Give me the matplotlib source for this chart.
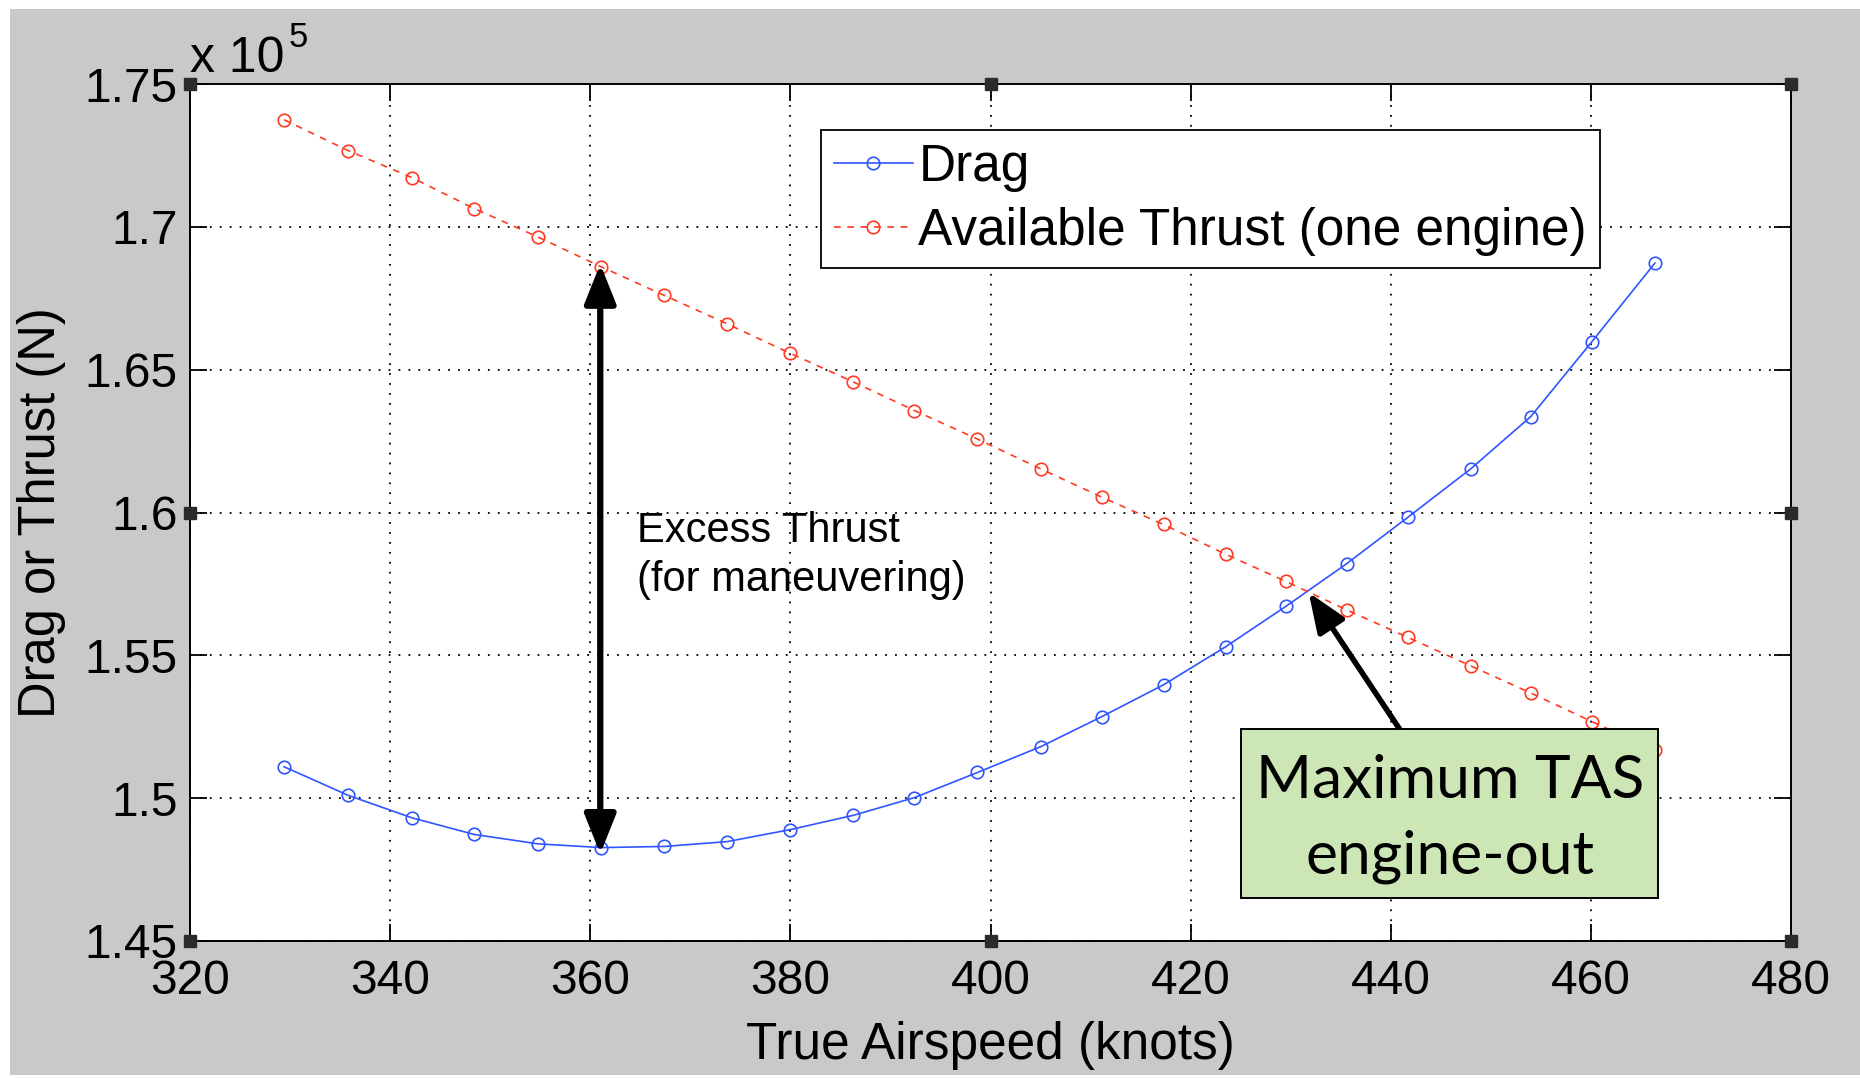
import matplotlib
matplotlib.use("Agg")
import matplotlib.pyplot as plt
from matplotlib.patches import Rectangle

# ---- data ----
tas_knots = [329.4, 335.8, 342.2, 348.4, 354.8, 361.1, 367.4, 373.7, 380.0, 386.3,
             392.4, 398.7, 405.0, 411.1, 417.3, 423.5, 429.5, 435.6, 441.7, 448.0,
             454.0, 460.1, 466.4]
drag_N = [151100, 150100, 149310, 148730, 148400, 148270, 148310, 148480, 148900, 149400,
          150020, 150900, 151800, 152850, 153970, 155300, 156710, 158210, 159830, 161530,
          163360, 165980, 168730]
thrust_N = [173750, 172670, 171720, 170640, 169640, 168600, 167600, 166600, 165570, 164570,
            163570, 162570, 161530, 160540, 159580, 158540, 157590, 156590, 155630, 154630,
            153680, 152680, 151680]

x_ticks = [320, 340, 360, 380, 400, 420, 440, 460, 480]
y_ticks = [145000, 150000, 155000, 160000, 165000, 170000, 175000]
y_tick_labels = ["1.45", "1.5", "1.55", "1.6", "1.65", "1.7", "1.75"]

series_names = ["Drag", "Available Thrust (one engine)"]
excess_text = "Excess Thrust\n(for maneuvering)"
box_lines = ["Maximum TAS", "engine-out"]

BLUE = "#2f55ff"
RED = "#ff3a22"
GREY = "#c9c9c9"

plt.rcParams["font.family"] = ["Liberation Sans", "DejaVu Sans"]

W, H = 1860, 1078
fig = plt.figure(figsize=(W / 100, H / 100), dpi=100)
fig.patch.set_facecolor("white")
fig.patches.append(Rectangle((10 / W, 3 / H), 1 - 10 / W, 1 - 12 / H,
                             transform=fig.transFigure, facecolor=GREY,
                             edgecolor="none", zorder=-10))

L, R, T, B = 190, 1791, 84, 941
ax = fig.add_axes([L / W, 1 - B / H, (R - L) / W, (B - T) / H])
ax.set_facecolor("white")

ax.plot(tas_knots, drag_N, color=BLUE, lw=1.2, marker="o", ms=9,
        mfc="none", mec=BLUE, mew=1.2, label=series_names[0], zorder=3)
ax.plot(tas_knots, thrust_N, color=RED, lw=1.2, ls=(0, (4, 4)), marker="o", ms=9,
        mfc="none", mec=RED, mew=1.2, label=series_names[1], zorder=3)

ax.set_xlim(320, 480)
ax.set_ylim(145000, 175000)
ax.set_xticks(x_ticks)
ax.set_xticklabels([str(v) for v in x_ticks])
ax.set_yticks(y_ticks)
ax.set_yticklabels(y_tick_labels)

ax.grid(True, color="black", ls=(0, (1, 4.5)), lw=1.3)
ax.tick_params(direction="in", length=12, width=1.3, top=True, right=True,
               labelsize=34.5, pad=13)
ax.tick_params(axis="y", pad=9)
for s in ax.spines.values():
    s.set_linewidth(1.4)
    s.set_color("black")

ax.set_xlabel("True Airspeed (knots)", fontsize=37, labelpad=12)
ax.set_ylabel("Drag or Thrust (N)", fontsize=36.5, va="center")
ax.yaxis.set_label_coords(-0.093, 0.5)

# exponent label
fig.text(190 / W, 1 - 72 / H, "x 10", fontsize=36, ha="left", va="baseline")
fig.text(289 / W, 1 - 47 / H, "5", fontsize=25, ha="left", va="baseline")

leg = ax.legend(loc="upper left", bbox_to_anchor=(0.394, 0.946), fontsize=37,
                frameon=True, fancybox=False, edgecolor="black", framealpha=1,
                handlelength=1.55, handletextpad=0.1, borderpad=0.25,
                labelspacing=0.28, borderaxespad=0)
leg.get_frame().set_linewidth(1.3)
leg.set_zorder(6)

# double-headed excess-thrust arrow
ax.annotate("", xy=(361.0, 168700), xytext=(361.0, 148050),
            arrowprops=dict(arrowstyle="<|-|>,head_length=1.0,head_width=0.4",
                            lw=4.5, color="black", mutation_scale=24,
                            shrinkA=0, shrinkB=0), zorder=5)
ax.text(364.7, 158500, excess_text, fontsize=30, ha="left", va="center",
        linespacing=1.3, zorder=5)

# annotation box
ax.add_patch(Rectangle((425.0, 146490), 41.7, 5920, facecolor="#cde6b5",
                       edgecolor="black", lw=1.4, zorder=7))
ax.text(445.9, 150000, box_lines[0], fontsize=43.5, family=["Lato", "DejaVu Sans"],
        ha="center", va="baseline", zorder=8)
ax.text(445.9, 147370, box_lines[1], fontsize=43.5, family=["Lato", "DejaVu Sans"],
        ha="center", va="baseline", zorder=8)
ax.annotate("", xy=(431.8, 157200), xytext=(440.9, 152410),
            arrowprops=dict(arrowstyle="-|>,head_length=1.0,head_width=0.4",
                            lw=4, color="black", mutation_scale=24,
                            shrinkA=0, shrinkB=0), zorder=6)

# selection handles at corners / midpoints
for hx, hy in [(0, 0), (0.5, 0), (1, 0), (0, 0.5), (1, 0.5), (0, 1), (0.5, 1), (1, 1)]:
    ax.plot([hx], [hy], marker="s", ms=8, color="#2b2b2b", transform=ax.transAxes,
            clip_on=False, zorder=9)

fig.savefig("out.png", dpi=100, facecolor=fig.get_facecolor())
